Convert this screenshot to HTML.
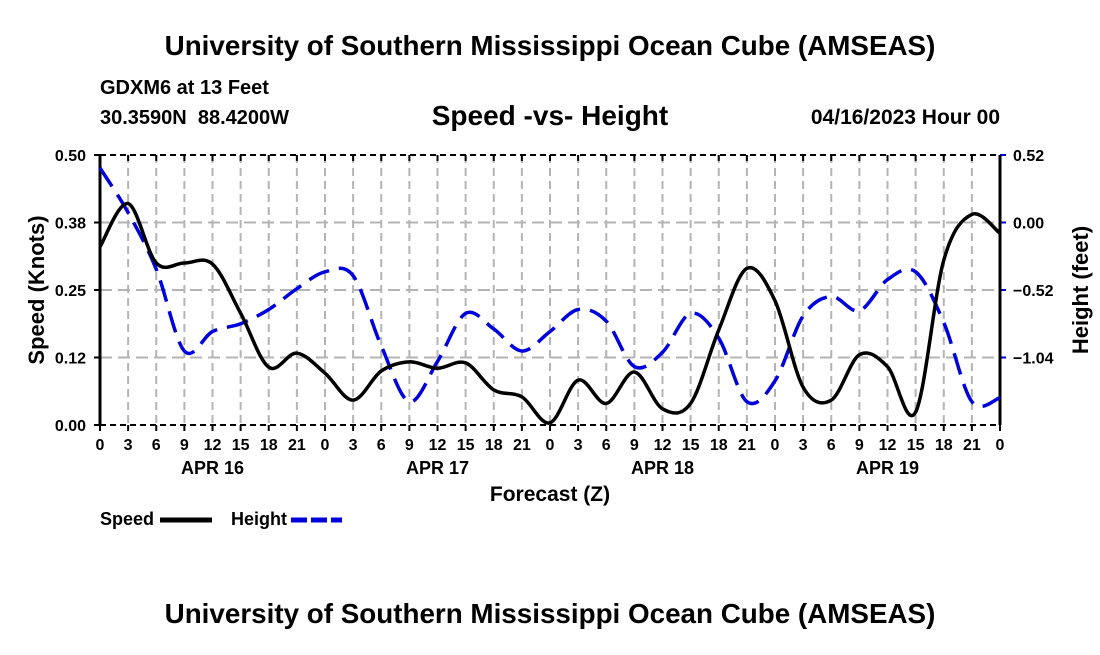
<!DOCTYPE html>
<html><head><meta charset="utf-8"><style>
body{margin:0;background:#fff;}
svg text{font-family:"Liberation Sans",Arial,sans-serif;font-weight:bold;fill:#000;}
</style></head><body>
<svg id="chart" width="1100" height="650" xmlns="http://www.w3.org/2000/svg">
<text x="550" y="55" font-size="27.8" text-anchor="middle">University of Southern Mississippi Ocean Cube (AMSEAS)</text>
<text x="100" y="94" font-size="20">GDXM6 at 13 Feet</text>
<text x="100" y="124" font-size="20" xml:space="preserve" style="white-space:pre">30.3590N  88.4200W</text>
<text x="550" y="125" font-size="28" text-anchor="middle">Speed -vs- Height</text>
<text x="1000" y="124" font-size="21" text-anchor="end">04/16/2023 Hour 00</text>
<g id="grid"></g>
<g id="axes"></g>
<g id="series"></g>
<text x="550" y="501" font-size="21" text-anchor="middle">Forecast (Z)</text>
<text transform="translate(44,290) rotate(-90)" font-size="22" text-anchor="middle">Speed (Knots)</text>
<text transform="translate(1088,290) rotate(-90)" font-size="22" text-anchor="middle">Height (feet)</text>
<g>
<text x="100" y="525" font-size="18">Speed</text>
<line x1="160" y1="520" x2="212" y2="520" stroke="#000" stroke-width="5"/>
<text x="231" y="525" font-size="18">Height</text>
<line x1="291" y1="520" x2="342" y2="520" stroke="#0000dd" stroke-width="5" stroke-dasharray="16,4"/>
</g>
<text x="550" y="623" font-size="27.8" text-anchor="middle">University of Southern Mississippi Ocean Cube (AMSEAS)</text>
</svg>
<script>
const hours = [0,3,6,9,12,15,18,21,24,27,30,33,36,39,42,45,48,51,54,57,60,63,66,69,72,75,78,81,84,87,90,93,96];
const speed = [0.33,0.41,0.30,0.30,0.298,0.207,0.107,0.133,0.096,0.046,0.10,0.117,0.105,0.115,0.065,0.052,0.004,0.083,0.04,0.098,0.03,0.04,0.176,0.29,0.23,0.07,0.046,0.13,0.108,0.024,0.305,0.39,0.355];
const height = [0.42,0.076,-0.36,-0.99,-0.84,-0.78,-0.67,-0.51,-0.38,-0.41,-0.95,-1.38,-1.07,-0.70,-0.82,-0.99,-0.84,-0.67,-0.76,-1.11,-1.0,-0.70,-0.89,-1.38,-1.22,-0.72,-0.57,-0.68,-0.44,-0.38,-0.77,-1.38,-1.35];
const leftTicks = [0.00,0.125,0.25,0.375,0.50];
const leftTickLabels = ["0.00","0.12","0.25","0.38","0.50"];
const rightTicks = [0.52,0.00,-0.52,-1.04];
const rightTickLabels = ["0.52","0.00","\u22120.52","\u22121.04"];
const xTickLabels = ["0","3","6","9","12","15","18","21","0","3","6","9","12","15","18","21","0","3","6","9","12","15","18","21","0","3","6","9","12","15","18","21","0"];
const dayLabels = ["APR 16","APR 17","APR 18","APR 19"];
const dayHours = [12,36,60,84];

const L=100,R=1000,T=155,B=425;
const xS=h=>L+(h/96)*(R-L);
const yL=v=>B-(v/0.5)*(B-T);
const yR=v=>T+((0.52-v)/2.08)*(B-T);
const NS="http://www.w3.org/2000/svg";
function mk(tag,attrs,parent){const e=document.createElementNS(NS,tag);for(const k in attrs)e.setAttribute(k,attrs[k]);parent.appendChild(e);return e;}
const grid=document.getElementById('grid'),axes=document.getElementById('axes'),series=document.getElementById('series');

xTickLabels.forEach((lab,i)=>{
  const x=xS(i*3);
  if(i>0&&i<32){const g=mk('line',{x1:x,y1:T,x2:x,y2:B,stroke:'#b4b4b4','stroke-width':2,'stroke-dasharray':'8,5'},grid);
  
  }
  const t=mk('line',{x1:x,y1:B,x2:x,y2:B+6,stroke:'#000','stroke-width':2},axes);
  
  
  const t2=mk('line',{x1:x,y1:T,x2:x,y2:T+6,stroke:'#000','stroke-width':2},axes);
  
  
  const tx=mk('text',{x:x,y:B+25,'font-size':16,'text-anchor':'middle'},axes);tx.textContent=lab;
  
  
});
dayLabels.forEach((d,i)=>{
  const tx=mk('text',{x:xS(dayHours[i]),y:B+49,'font-size':18,'text-anchor':'middle'},axes);tx.textContent=d;
  
  
});
leftTicks.forEach((v,i)=>{
  const y=yL(v);
  if(i>0&&i<4){const g=mk('line',{x1:L,y1:y,x2:R,y2:y,stroke:'#b4b4b4','stroke-width':2,'stroke-dasharray':'12,6'},grid);
  
  }
  const t=mk('line',{x1:L-6,y1:y,x2:L,y2:y,stroke:'#000','stroke-width':2},axes);
  
  
  const tx=mk('text',{x:L-14,y:y+6,'font-size':16,'text-anchor':'end'},axes);tx.textContent=leftTickLabels[i];
  
  
});
rightTicks.forEach((v,i)=>{
  const y=yR(v);
  const t=mk('line',{x1:R,y1:y,x2:R+6,y2:y,stroke:'#0000dd','stroke-width':2},axes);
  
  
  const tx=mk('text',{x:R+13,y:y+6,'font-size':16},axes);tx.textContent=rightTickLabels[i];
  
  
});
[T,B].forEach(y=>{const l=mk('line',{x1:L,y1:y,x2:R,y2:y,stroke:'#000','stroke-width':2,'stroke-dasharray':'6,4'},axes);
  
  });
[L,R].forEach(x=>{const l=mk('line',{x1:x,y1:T,x2:x,y2:B,stroke:'#000','stroke-width':3},axes);
  
  });

function smooth(pts){
  let d=`M${pts[0][0]},${pts[0][1]}`;
  for(let i=0;i<pts.length-1;i++){
    const p0=pts[Math.max(i-1,0)],p1=pts[i],p2=pts[i+1],p3=pts[Math.min(i+2,pts.length-1)];
    const c1=[p1[0]+(p2[0]-p0[0])/6,p1[1]+(p2[1]-p0[1])/6];
    const c2=[p2[0]-(p3[0]-p1[0])/6,p2[1]-(p3[1]-p1[1])/6];
    d+=`C${c1[0]},${c1[1]} ${c2[0]},${c2[1]} ${p2[0]},${p2[1]}`;
  }
  return d;
}
const hp=mk('path',{d:smooth(hours.map((h,i)=>[xS(h),yR(height[i])])),fill:'none',stroke:'#0000dd','stroke-width':3.5,'stroke-dasharray':'22,10'},series);


const sp=mk('path',{d:smooth(hours.map((h,i)=>[xS(h),yL(speed[i])])),fill:'none',stroke:'#000','stroke-width':3.5},series);


</script>
</body></html>
